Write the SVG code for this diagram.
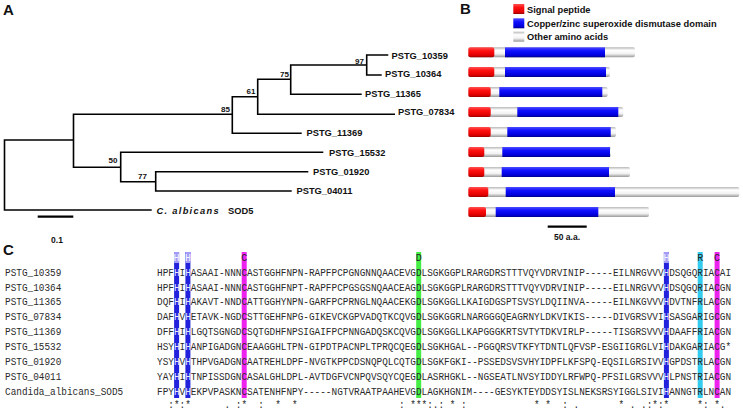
<svg xmlns="http://www.w3.org/2000/svg" width="743" height="412" viewBox="0 0 743 412">
<style>
.pl{font-family:"Liberation Sans",Arial,sans-serif;font-weight:bold;font-size:15px;fill:#111}
.leaf{font-family:"Liberation Sans",Arial,sans-serif;font-weight:bold;font-size:9.3px;fill:#111}
.bs{font-family:"Liberation Sans",Arial,sans-serif;font-weight:bold;font-size:8px;fill:#111;text-anchor:end}
.leg{font-family:"Liberation Sans",Arial,sans-serif;font-weight:bold;font-size:9.3px;fill:#111}
.sc{font-family:"Liberation Sans",Arial,sans-serif;font-weight:bold;font-size:8.5px;fill:#111;text-anchor:middle}
.edge{stroke:#000;stroke-width:1.6;fill:none;stroke-linejoin:miter}
.bar{stroke:#000;stroke-width:2.2}
.seq{font-family:"Liberation Mono","DejaVu Sans Mono",monospace;font-size:11px;fill:#2a2a2a;white-space:pre}
.w{fill:#e8e8ff}
.top{font-family:"Liberation Mono","DejaVu Sans Mono",monospace;font-size:10px;fill:#222;text-anchor:middle}
.topw{fill:#f4f4ff}
</style>
<defs>
<linearGradient id="gR" x1="0" y1="0" x2="0" y2="1"><stop offset="0" stop-color="#ff5050"/><stop offset="0.35" stop-color="#ff1010"/><stop offset="0.8" stop-color="#e00000"/><stop offset="1" stop-color="#990000"/></linearGradient>
<linearGradient id="gB" x1="0" y1="0" x2="0" y2="1"><stop offset="0" stop-color="#4a4aff"/><stop offset="0.35" stop-color="#1010ff"/><stop offset="0.8" stop-color="#0000dd"/><stop offset="1" stop-color="#000088"/></linearGradient>
<linearGradient id="gG" x1="0" y1="0" x2="0" y2="1"><stop offset="0" stop-color="#b8b8b8"/><stop offset="0.3" stop-color="#ffffff"/><stop offset="0.65" stop-color="#f2f2f2"/><stop offset="1" stop-color="#999999"/></linearGradient>
</defs>
<rect width="743" height="412" fill="#fff"/>

<!-- Panel A -->
<text class="pl" x="3" y="15">A</text>
<g id="tree-edges">
<path class="edge" d="M73.5 140 H4.5 V210 H151.7"/>
<path class="edge" d="M232.3 114.3 H73.5 V167.3 H120.7"/>
<path class="edge" d="M257.7 96.7 H232.3 V133.3 H301.7"/>
<path class="edge" d="M290.7 79.3 H257.7 V114.3 H395"/>
<path class="edge" d="M366.7 65 H290.7 V94.3 H361.7"/>
<path class="edge" d="M388.3 55 H366.7 V75 H381.7"/>
<path class="edge" d="M323.3 152.3 H120.7 V181.7 H155.7"/>
<path class="edge" d="M308.3 171.7 H155.7 V191 H291.7"/>
</g>
<g id="bootstrap">
<text class="bs" x="364" y="63.5">97</text>
<text class="bs" x="289" y="77">75</text>
<text class="bs" x="255.5" y="94">61</text>
<text class="bs" x="230" y="111.5">85</text>
<text class="bs" x="117.5" y="163">50</text>
<text class="bs" x="147" y="179">77</text>
</g>
<g id="leaf-10359"><text class="leaf" x="391.5" y="58.5">PSTG_10359</text></g>
<g id="leaf-10364"><text class="leaf" x="385" y="77">PSTG_10364</text></g>
<g id="leaf-11365"><text class="leaf" x="365" y="97">PSTG_11365</text></g>
<g id="leaf-07834"><text class="leaf" x="398" y="115">PSTG_07834</text></g>
<g id="leaf-11369"><text class="leaf" x="306.5" y="136">PSTG_11369</text></g>
<g id="leaf-15532"><text class="leaf" x="329" y="155.7">PSTG_15532</text></g>
<g id="leaf-01920"><text class="leaf" x="313" y="175">PSTG_01920</text></g>
<g id="leaf-04011"><text class="leaf" x="296.5" y="193.5">PSTG_04011</text></g>
<g id="leaf-sod5"><text class="leaf" x="156.5" y="213.5"><tspan font-style="italic" letter-spacing="1.3">C. albicans</tspan><tspan x="228">SOD5</tspan></text></g>
<g id="scale-a">
<line class="bar" x1="37.7" y1="216.7" x2="73.3" y2="216.7"/>
<text class="sc" x="57" y="243">0.1</text>
</g>

<!-- Panel B -->
<text class="pl" x="460" y="14">B</text>
<g id="legend">
<rect x="513.3" y="4" width="11" height="10" fill="url(#gR)"/>
<text class="leg" x="527" y="12.5">Signal peptide</text>
<rect x="513.3" y="18.3" width="11" height="10" fill="url(#gB)"/>
<text class="leg" x="527" y="26.5">Copper/zinc superoxide dismutase domain</text>
<rect x="513.3" y="31.7" width="11" height="10" fill="url(#gG)"/>
<text class="leg" x="527" y="40">Other amino acids</text>
</g>
<g id="bar-1"><rect x="468.3" y="47.3" width="166.7" height="10" rx="2" fill="url(#gG)"/><rect x="468.3" y="47.3" width="26" height="10" rx="2" fill="url(#gR)"/><rect x="505" y="47.3" width="100" height="10" fill="url(#gB)"/></g>
<g id="bar-2"><rect x="468.3" y="67" width="141.7" height="10" rx="2" fill="url(#gG)"/><rect x="468.3" y="67" width="26" height="10" rx="2" fill="url(#gR)"/><rect x="505" y="67" width="101" height="10" fill="url(#gB)"/></g>
<g id="bar-3"><rect x="468.3" y="87" width="139.4" height="10" rx="2" fill="url(#gG)"/><rect x="468.3" y="87" width="22.4" height="10" rx="2" fill="url(#gR)"/><rect x="499.3" y="87" width="103" height="10" fill="url(#gB)"/></g>
<g id="bar-4"><rect x="468.3" y="107" width="155" height="10" rx="2" fill="url(#gG)"/><rect x="468.3" y="107" width="22.4" height="10" rx="2" fill="url(#gR)"/><rect x="517.3" y="107" width="101" height="10" fill="url(#gB)"/></g>
<g id="bar-5"><rect x="468.3" y="127" width="147.7" height="10" rx="2" fill="url(#gG)"/><rect x="468.3" y="127" width="22.4" height="10" rx="2" fill="url(#gR)"/><rect x="507.3" y="127" width="103.4" height="10" fill="url(#gB)"/></g>
<g id="bar-6"><rect x="468.3" y="147" width="142.7" height="10" rx="2" fill="url(#gG)"/><rect x="468.3" y="147" width="16" height="10" rx="2" fill="url(#gR)"/><rect x="502.3" y="147" width="107.7" height="10" fill="url(#gB)"/></g>
<g id="bar-7"><rect x="468.3" y="167" width="161.7" height="10" rx="2" fill="url(#gG)"/><rect x="468.3" y="167" width="16" height="10" rx="2" fill="url(#gR)"/><rect x="501.7" y="167" width="107.3" height="10" fill="url(#gB)"/></g>
<g id="bar-8"><rect x="468.3" y="187" width="271" height="10" rx="2" fill="url(#gG)"/><rect x="468.3" y="187" width="20" height="10" rx="2" fill="url(#gR)"/><rect x="505.7" y="187" width="109.3" height="10" fill="url(#gB)"/></g>
<g id="bar-9"><rect x="468.3" y="207" width="180.7" height="10" rx="2" fill="url(#gG)"/><rect x="468.3" y="207" width="17.7" height="10" rx="2" fill="url(#gR)"/><rect x="495.7" y="207" width="102.6" height="10" fill="url(#gB)"/></g>
<g id="scale-b">
<line class="bar" x1="547.7" y1="226.7" x2="586.7" y2="226.7"/>
<text class="sc" x="567" y="240">50 a.a.</text>
</g>

<!-- Panel C -->
<text class="pl" x="3" y="255">C</text>
<g id="highlights">
<rect x="174.1" y="252" width="5" height="146" fill="#2222dd"/><rect x="174.1" y="252" width="5" height="11" fill="#a49cf6"/>
<rect x="185.4" y="252" width="5" height="146" fill="#2222dd"/><rect x="185.4" y="252" width="5" height="11" fill="#a49cf6"/>
<rect x="241.7" y="252" width="5" height="146" fill="#ee22ee"/>
<rect x="416.2" y="252" width="5" height="146" fill="#44ee44"/>
<rect x="663.9" y="252" width="5" height="146" fill="#2222dd"/><rect x="663.9" y="252" width="5" height="11" fill="#a49cf6"/>
<rect x="697.7" y="252" width="5" height="146" fill="#33ccee"/>
<rect x="714.6" y="252" width="5" height="146" fill="#ee22ee"/>
</g>
<g id="column-labels">
<text class="top topw" x="176.6" y="261">H</text>
<text class="top topw" x="187.9" y="261">H</text>
<text class="top" x="244.2" y="261">C</text>
<text class="top" x="418.7" y="261">D</text>
<text class="top topw" x="666.4" y="261">H</text>
<text class="top" x="700.2" y="261">R</text>
<text class="top" x="717.1" y="261">C</text>
</g>
<g id="names" transform="translate(5 0) scale(0.853 1)">
<text class="seq" x="0" y="275.8">PSTG_10359</text>
<text class="seq" x="0" y="290.65">PSTG_10364</text>
<text class="seq" x="0" y="305.5">PSTG_11365</text>
<text class="seq" x="0" y="320.35">PSTG_07834</text>
<text class="seq" x="0" y="335.2">PSTG_11369</text>
<text class="seq" x="0" y="350.05">PSTG_15532</text>
<text class="seq" x="0" y="364.9">PSTG_01920</text>
<text class="seq" x="0" y="379.75">PSTG_04011</text>
<text class="seq" x="0" y="394.6">Candida_albicans_SOD5</text>
</g>
<g id="alignment" transform="translate(157 0) scale(0.853 1)">
<text class="seq" x="0" y="275.8">HPF<tspan class="w">H</tspan>I<tspan class="w">H</tspan>ASAAI-NNNCASTGGHFNPN-RAPFPCPGNGNNQAACEVGDLSGKGGPLRARGDRSTTTVQYVDRVINIP-----EILNRGVVV<tspan class="w">H</tspan>DSQGQRIACAI</text>
<text class="seq" x="0" y="290.65">HPF<tspan class="w">H</tspan>I<tspan class="w">H</tspan>ASAAI-NNNCASTGGHFNPT-RAPFPCPGSGSNQAACEAGDLSGKGGPLRARGDRSTTTVQYVDRVINIP-----EILNRGVVV<tspan class="w">H</tspan>DSQGQRIACGN</text>
<text class="seq" x="0" y="305.5">DQF<tspan class="w">H</tspan>I<tspan class="w">H</tspan>AKAVT-NNDCATTGGHYNPN-GARFPCPRNGLNQAACEKGDLSGKGGLLKAIGDGSPTSVSYLDQIINVA-----EILNKGVVV<tspan class="w">H</tspan>DVTNFRLACGN</text>
<text class="seq" x="0" y="320.35">DAF<tspan class="w">H</tspan>V<tspan class="w">H</tspan>ETAVK-NGDCSTTGEHFNPG-GIKEVCKGPVADQTKCQVGDLSGKGGRLNARGGGQEAGRNYLDKVIKIS-----DIVGRSVVI<tspan class="w">H</tspan>SASGARIGCGN</text>
<text class="seq" x="0" y="335.2">DFF<tspan class="w">H</tspan>I<tspan class="w">H</tspan>LGQTSGNGDCSQTGDHFNPSIGAIFPCPNNGADQSKCQVGDLSGKGGLLKAPGGGKRTSVTYTDKVIRLP-----TISGRSVVV<tspan class="w">H</tspan>DAAFFRIACGN</text>
<text class="seq" x="0" y="350.05">HSY<tspan class="w">H</tspan>I<tspan class="w">H</tspan>ANPIGADGNCEAAGGHLTPN-GIPDTPACNPLTPRQCQEGDLSGKHGAL--PGGQRSVTKFYTDNTLQFVSP-ESGIIGRGLVI<tspan class="w">H</tspan>DAKGARIACG*</text>
<text class="seq" x="0" y="364.9">YSY<tspan class="w">H</tspan>V<tspan class="w">H</tspan>THPVGADGNCAATREHLDPF-NVGTKPPCDSNQPQLCQTGDLSGKFGKI--PSSEDSVSVHYIDPFLKFSPQ-EQSILGRSIVV<tspan class="w">H</tspan>GPDSTRLACGN</text>
<text class="seq" x="0" y="379.75">YAY<tspan class="w">H</tspan>I<tspan class="w">H</tspan>TNPISSDGNCASALGHLDPL-AVTDGFVCNPQVSQYCQEGDLASRHGKL--NGSEATLNVSYIDDYLRFWPQ-PFSILGRSVVV<tspan class="w">H</tspan>LPNSTRIACGN</text>
<text class="seq" x="0" y="394.6">FPY<tspan class="w">H</tspan>V<tspan class="w">H</tspan>EKPVPASKNCSATENHFNPY-----NGTVRAATPAAHEVGDLAGKHGNIM----GESYKTEYDDSYISLNEKSRSYIGGLSIVI<tspan class="w">H</tspan>ANNGTRLNCAN</text>
<text class="seq" x="0" y="408.5" xml:space="preserve">  :*:*      . :*  :  *  *                  : ***:.: * :            * *  : .       * . .:*:*     *: *.</text>
</g>
</svg>
